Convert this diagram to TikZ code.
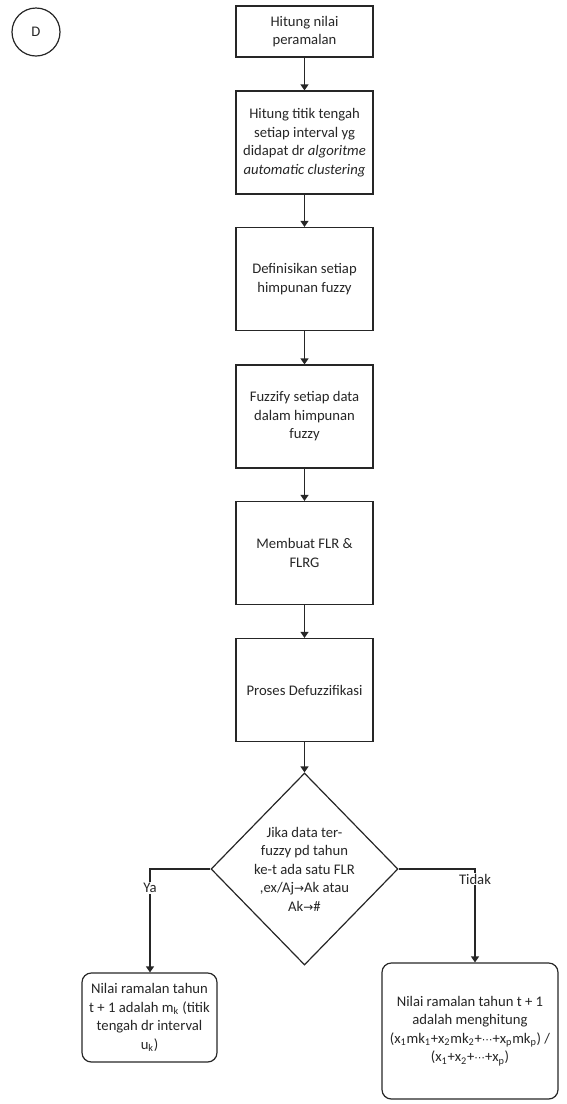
\documentclass[tikz,border=0pt]{standalone}
\usepackage{fontspec}
\setmainfont{Carlito}
\newfontfamily\simbol{DejaVu Sans}
\usetikzlibrary{shapes.geometric,arrows.meta}

\newcommand{\bawah}[1]{\textsubscript{#1}}
\newcommand{\panahkanan}{{\simbol\fontsize{9}{9}\selectfont →}}
\newcommand{\titiktiga}{{\simbol\fontsize{8}{8}\selectfont ⋯}}

\tikzset{
	teks/.style={font=\fontsize{11}{13.9}\selectfont, text=black!85},
	proses/.style={teks, draw, rectangle, align=center, inner sep=2pt,
		minimum width=102.75pt, minimum height=77.25pt},
	keputusan/.style={teks, draw, diamond, align=center, inner sep=-2pt,
		minimum width=140.25pt, minimum height=144pt},
	hasil/.style={teks, draw, rectangle, rounded corners=7pt, align=center, inner sep=2pt},
	konektor/.style={teks, draw, circle, minimum size=36pt, inner sep=0pt},
	panah/.style={-{Triangle[length=4.5pt,width=6pt]}},
	ket/.style={teks, fill=white, inner sep=1pt}
}

\begin{document}
\begin{tikzpicture}[x=0.75pt, y=-0.75pt, line width=0.9pt, draw=black!85]
	\useasboundingbox (0,0) rectangle (567,1104);
	% konektor halaman
	\node[konektor] (d) at (36,32) {D};
	% alur utama
	\node[proses, minimum height=38.25pt] (nilai) at (304.5,31.5) {Hitung nilai\\peramalan};
	\node[proses] (tengah) at (304.5,142.5) {Hitung titik tengah\\setiap interval yg\\didapat dr \textit{algoritme}\\\textit{automatic clustering}};
	\node[proses] (himpunan) at (304.5,279) {Definisikan setiap\\himpunan fuzzy};
	\node[proses] (fuzzify) at (304.5,416.5) {Fuzzify setiap data\\dalam himpunan\\fuzzy};
	\node[proses] (flr) at (304.5,553) {Membuat FLR \&\\FLRG};
	\node[proses] (defuzz) at (304.5,690) {Proses Defuzzifikasi};
	\node[keputusan] (jika) at (304.5,869) {Jika data ter-\\fuzzy pd tahun\\ke-t ada satu FLR\\,ex/Aj\panahkanan Ak atau\\Ak\panahkanan\#};
	% hasil
	\node[hasil, minimum width=101.25pt, minimum height=66.75pt] (ya) at (149.5,1017.5) {Nilai ramalan tahun\\t + 1 adalah m\bawah{k} (titik\\tengah dr interval\\u\bawah{k})};
	\node[hasil, minimum width=132pt, minimum height=102pt] (tidak) at (470,1031) {Nilai ramalan tahun t + 1\\adalah menghitung\\(x\bawah{1}mk\bawah{1}+x\bawah{2}mk\bawah{2}+\titiktiga+x\bawah{p}mk\bawah{p}) /\\(x\bawah{1}+x\bawah{2}+\titiktiga+x\bawah{p})};

	\draw[panah] (nilai) -- (tengah);
	\draw[panah] (tengah) -- (himpunan);
	\draw[panah] (himpunan) -- (fuzzify);
	\draw[panah] (fuzzify) -- (flr);
	\draw[panah] (flr) -- (defuzz);
	\draw[panah] (defuzz) -- (jika);
	\coordinate (belokkiri) at (150,869);
	\coordinate (belokkanan) at (475,869);
	\draw[panah] (jika.west) -- (belokkiri) -- (belokkiri |- ya.north);
	\draw[panah] (jika.east) -- (belokkanan) -- (belokkanan |- tidak.north);
	\node[ket] (lya) at (150,888) {Ya};
	\node[ket] (ltidak) at (475,879) {Tidak};
\end{tikzpicture}
\end{document}
